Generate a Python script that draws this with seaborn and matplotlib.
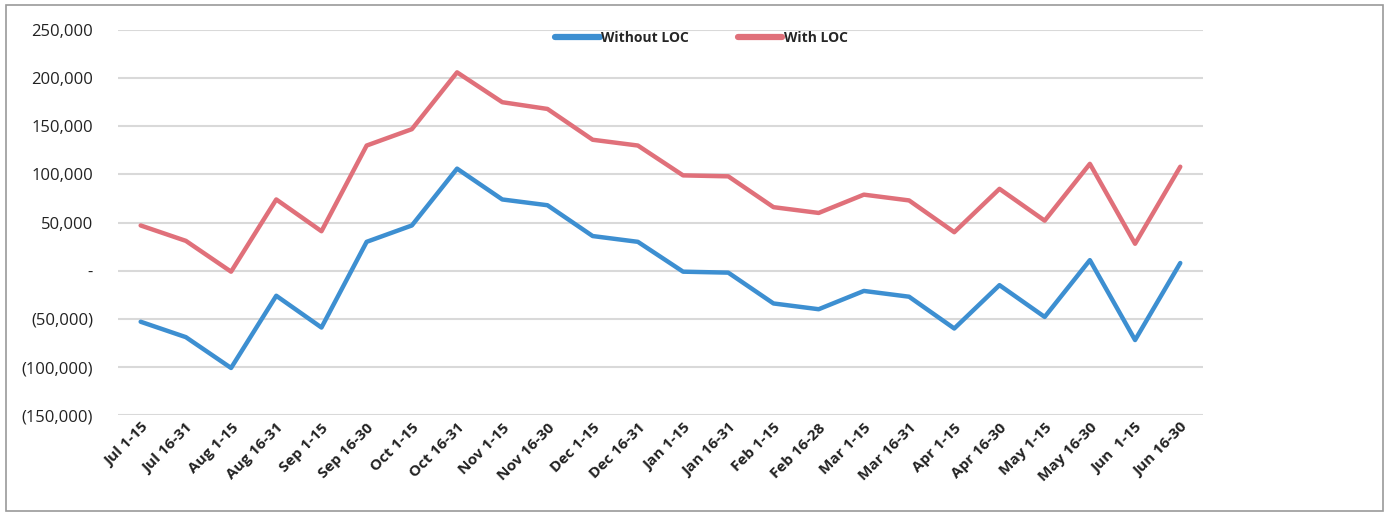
import pandas as pd
import numpy as np
import matplotlib.pyplot as plt
import seaborn as sns
from matplotlib.ticker import FuncFormatter

# semi-monthly periods
periods = ["Jul 1-15", "Jul 16-31", "Aug 1-15", "Aug 16-31", "Sep 1-15", "Sep 16-30",
           "Oct 1-15", "Oct 16-31", "Nov 1-15", "Nov 16-30", "Dec 1-15", "Dec 16-31",
           "Jan 1-15", "Jan 16-31", "Feb 1-15", "Feb 16-28", "Mar 1-15", "Mar 16-31",
           "Apr 1-15", "Apr 16-30", "May 1-15", "May 16-30", "Jun  1-15", "Jun 16-30"]

without_loc = [-53000, -69000, -101000, -26000, -59000, 30000,
               47000, 106000, 74000, 68000, 36000, 30000,
               -1000, -2000, -34000, -40000, -21000, -27000,
               -60000, -15000, -48000, 11000, -72000, 8000]

with_loc = [47000, 31000, -1000, 74000, 41000, 130000,
            147000, 206000, 175000, 168000, 136000, 130000,
            99000, 98000, 66000, 60000, 79000, 73000,
            40000, 85000, 52000, 111000, 28000, 108000]

series_names = ["Without LOC", "With LOC"]
colors = ["#3d8fd1", "#e0707a"]

df = pd.DataFrame({
    "period": periods * 2,
    "value": without_loc + with_loc,
    "series": [series_names[0]] * len(periods) + [series_names[1]] * len(periods),
})

sns.set_style("white")
plt.rcParams['font.family'] = ['Open Sans', 'DejaVu Sans']

fig = plt.figure(figsize=(13.89, 5.17), dpi=100)
ax = fig.add_axes([0.085, 0.197, 0.781, 0.745])

sns.lineplot(data=df, x="period", y="value", hue="series", palette=colors,
             sort=False, linewidth=3.2, ax=ax, legend=False)

ax.set_xlim(-0.5, len(periods) - 0.5)
ax.set_ylim(-150000, 250000)
ax.set_yticks(np.arange(-150000, 250001, 50000))


def fmt(v, pos):
    if v == 0:
        return "-"
    if v < 0:
        return f"({-v:,.0f})"
    return f"{v:,.0f}"


ax.yaxis.set_major_formatter(FuncFormatter(fmt))
ax.grid(axis="y", color="#d9d9d9", linewidth=1.5)
ax.set_axisbelow(True)
for s in ax.spines.values():
    s.set_visible(False)

ax.set_xlabel("")
ax.set_ylabel("")
ax.tick_params(axis="y", length=0, pad=18, labelsize=12, labelcolor="#222222")
ax.tick_params(axis="x", length=0, pad=4)
ax.set_xticks(range(len(periods)))
ax.set_xticklabels(periods, rotation=45, ha="right", rotation_mode="anchor",
                   fontsize=11, fontweight="bold", color="#222222")

# legend at top
handles = [plt.Line2D([], [], color=c, linewidth=4.5) for c in colors]
fig.legend(handles, series_names, loc="center", bbox_to_anchor=(0.505, 0.926),
           ncol=2, frameon=False, fontsize=10, handlelength=3.2, handletextpad=0.1,
           columnspacing=3.5, prop={"weight": "bold", "size": 10})

# outer chart frame
fig.patches.append(plt.Rectangle((0.004, 0.012), 0.992, 0.978, transform=fig.transFigure,
                                 fill=False, edgecolor="#9a9a9a", linewidth=1.2))

plt.savefig("out.png", dpi=100)
